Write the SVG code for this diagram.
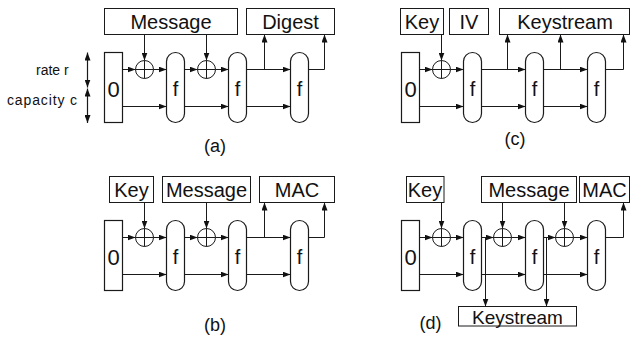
<svg xmlns="http://www.w3.org/2000/svg" width="631" height="341" viewBox="0 0 631 341">
  <style>
    .box { fill: #fff; stroke: #1a1a1a; stroke-width: 1; }
    .state { fill: #fff; stroke: #1a1a1a; stroke-width: 1.2; }
    .xor { fill: #fff; stroke: #1a1a1a; stroke-width: 1; }
    .cross { stroke: #1a1a1a; stroke-width: 1; fill: none; }
    .wire { fill: none; stroke: #1a1a1a; stroke-width: 1; marker-end: url(#ah); }
    .dbl { fill: none; stroke: #1a1a1a; stroke-width: 1.2; marker-start: url(#ah); marker-end: url(#ah); }
    text { font-family: "Liberation Sans", Arial, sans-serif; fill: #111; text-anchor: middle; }
    .lbl { font-size: 20px; }
    .big { font-size: 22px; }
    .cap { font-size: 18px; }
    .side { font-size: 14px; text-anchor: start; }
  </style>
  <defs>
    <marker id="ah" viewBox="0 0 8 6" refX="8" refY="3" markerWidth="8" markerHeight="6" orient="auto-start-reverse" markerUnits="userSpaceOnUse">
      <path d="M0,0 L8,3 L0,6 z" fill="#111"/>
    </marker>
    <g id="xorSym">
      <circle class="xor" cx="0" cy="0" r="9"/>
      <path class="cross" d="M-9,0 H9 M0,-9 V9"/>
    </g>
  </defs>

  <!-- rate / capacity legend -->
  <g id="legend">
    <text class="side" x="36" y="75">rate r</text>
    <text class="side" x="7" y="105" textLength="70" lengthAdjust="spacing">capacity c</text>
    <path class="dbl" d="M87.5,52.5 V87.5"/>
    <path class="dbl" d="M87.5,88.5 V123"/>
  </g>

  <!-- (a) hashing -->
  <g id="a-message"><rect class="box" x="104.5" y="8.5" width="133" height="26"/><text class="lbl" x="171" y="28.5">Message</text></g>
  <g id="a-digest"><rect class="box" x="246.5" y="8.5" width="88" height="26"/><text class="lbl" x="290.5" y="28.5">Digest</text></g>
  <g id="a-zero"><rect class="state" x="104.5" y="52.5" width="18" height="70"/><text class="big" x="113.5" y="96.5">0</text></g>
  <g id="a-xor1"><use href="#xorSym" x="144.5" y="69.5"/></g>
  <g id="a-f1"><rect class="state" x="166.5" y="52.5" width="18" height="70" rx="9"/><text class="lbl" x="175.5" y="96">f</text></g>
  <g id="a-xor2"><use href="#xorSym" x="206.5" y="69.5"/></g>
  <g id="a-f2"><rect class="state" x="228.5" y="52.5" width="18" height="70" rx="9"/><text class="lbl" x="237.5" y="96">f</text></g>
  <g id="a-f3"><rect class="state" x="290.5" y="52.5" width="18" height="70" rx="9"/><text class="lbl" x="299.5" y="96">f</text></g>
  <g id="a-caption"><text class="cap" x="215" y="151.5">(a)</text></g>

  <!-- (b) MAC -->
  <g id="b-key"><rect class="box" x="109.5" y="176.5" width="44" height="26"/><text class="lbl" x="131.5" y="196.5">Key</text></g>
  <g id="b-message"><rect class="box" x="162.5" y="176.5" width="88" height="26"/><text class="lbl" x="206.5" y="196.5">Message</text></g>
  <g id="b-mac"><rect class="box" x="259.5" y="176.5" width="75" height="26"/><text class="lbl" x="297" y="196.5">MAC</text></g>
  <g id="b-zero"><rect class="state" x="104.5" y="220.5" width="18" height="70"/><text class="big" x="113.5" y="264.5">0</text></g>
  <g id="b-xor1"><use href="#xorSym" x="144.5" y="237.5"/></g>
  <g id="b-f1"><rect class="state" x="166.5" y="220.5" width="18" height="70" rx="9"/><text class="lbl" x="175.5" y="264">f</text></g>
  <g id="b-xor2"><use href="#xorSym" x="206.5" y="237.5"/></g>
  <g id="b-f2"><rect class="state" x="228.5" y="220.5" width="18" height="70" rx="9"/><text class="lbl" x="237.5" y="264">f</text></g>
  <g id="b-f3"><rect class="state" x="290.5" y="220.5" width="18" height="70" rx="9"/><text class="lbl" x="299.5" y="264">f</text></g>
  <g id="b-caption"><text class="cap" x="215" y="331">(b)</text></g>

  <!-- (c) stream cipher -->
  <g id="c-key"><rect class="box" x="400.5" y="8.5" width="43" height="26"/><text class="lbl" x="422" y="28.5">Key</text></g>
  <g id="c-iv"><rect class="box" x="449.5" y="8.5" width="39" height="26"/><text class="lbl" x="469" y="28.5">IV</text></g>
  <g id="c-keystream"><rect class="box" x="499.5" y="8.5" width="130" height="26"/><text class="lbl" x="565" y="28.5">Keystream</text></g>
  <g id="c-zero"><rect class="state" x="401.5" y="52.5" width="18" height="70"/><text class="big" x="410.5" y="96.5">0</text></g>
  <g id="c-xor1"><use href="#xorSym" x="441.5" y="69.5"/></g>
  <g id="c-f1"><rect class="state" x="463.5" y="52.5" width="18" height="70" rx="9"/><text class="lbl" x="472.5" y="96">f</text></g>
  <g id="c-f2"><rect class="state" x="525.5" y="52.5" width="18" height="70" rx="9"/><text class="lbl" x="534.5" y="96">f</text></g>
  <g id="c-f3"><rect class="state" x="587.5" y="52.5" width="18" height="70" rx="9"/><text class="lbl" x="596.5" y="96">f</text></g>
  <g id="c-caption"><text class="cap" x="515" y="145">(c)</text></g>

  <!-- (d) authenticated encryption -->
  <g id="d-key"><rect class="box" x="406.5" y="176.5" width="37.5" height="26"/><text class="lbl" x="425" y="196.5">Key</text></g>
  <g id="d-message"><rect class="box" x="481.5" y="176.5" width="95" height="26"/><text class="lbl" x="529" y="196.5">Message</text></g>
  <g id="d-mac"><rect class="box" x="579.5" y="176.5" width="50" height="26"/><text class="lbl" x="604.5" y="196.5">MAC</text></g>
  <g id="d-zero"><rect class="state" x="401.5" y="220.5" width="18" height="70"/><text class="big" x="410.5" y="264.5">0</text></g>
  <g id="d-xor1"><use href="#xorSym" x="441.5" y="237.5"/></g>
  <g id="d-f1"><rect class="state" x="463.5" y="220.5" width="18" height="70" rx="9"/><text class="lbl" x="472.5" y="264">f</text></g>
  <g id="d-xor2"><use href="#xorSym" x="502.5" y="237.5"/></g>
  <g id="d-f2"><rect class="state" x="525.5" y="220.5" width="18" height="70" rx="9"/><text class="lbl" x="534.5" y="264">f</text></g>
  <g id="d-xor3"><use href="#xorSym" x="564.5" y="237.5"/></g>
  <g id="d-f3"><rect class="state" x="587.5" y="220.5" width="18" height="70" rx="9"/><text class="lbl" x="596.5" y="264">f</text></g>
  <g id="d-keystream"><rect class="box" x="458.5" y="306.5" width="118" height="19.5"/><text class="lbl" x="517.5" y="324" style="font-size:19px">Keystream</text></g>
  <g id="d-caption"><text class="cap" x="430.5" y="329">(d)</text></g>

  <!-- connectors -->
  <g id="connectors">
    <!-- (a) -->
    <path class="wire" d="M122.5,69.5 H135.5"/>
    <path class="wire" d="M144.5,34.5 V60.5"/>
    <path class="wire" d="M153.5,69.5 H166.5"/>
    <path class="wire" d="M184.5,69.5 H197.5"/>
    <path class="wire" d="M206.5,34.5 V60.5"/>
    <path class="wire" d="M215.5,69.5 H228.5"/>
    <path class="wire" d="M246.5,69.5 H290.5"/>
    <path class="wire" d="M264.5,69.5 V34.5"/>
    <path class="wire" d="M308.5,69.5 H324.5 V34.5"/>
    <path class="wire" d="M122.5,106.5 H166.5"/>
    <path class="wire" d="M184.5,106.5 H228.5"/>
    <path class="wire" d="M246.5,106.5 H290.5"/>
    <!-- (b) -->
    <path class="wire" d="M122.5,237.5 H135.5"/>
    <path class="wire" d="M144.5,202.5 V228.5"/>
    <path class="wire" d="M153.5,237.5 H166.5"/>
    <path class="wire" d="M184.5,237.5 H197.5"/>
    <path class="wire" d="M206.5,202.5 V228.5"/>
    <path class="wire" d="M215.5,237.5 H228.5"/>
    <path class="wire" d="M246.5,237.5 H290.5"/>
    <path class="wire" d="M264.5,237.5 V202.5"/>
    <path class="wire" d="M308.5,237.5 H324.5 V202.5"/>
    <path class="wire" d="M122.5,274.5 H166.5"/>
    <path class="wire" d="M184.5,274.5 H228.5"/>
    <path class="wire" d="M246.5,274.5 H290.5"/>
    <!-- (c) -->
    <path class="wire" d="M419.5,69.5 H432.5"/>
    <path class="wire" d="M441.5,34.5 V60.5"/>
    <path class="wire" d="M450.5,69.5 H463.5"/>
    <path class="wire" d="M481.5,69.5 H525.5"/>
    <path class="wire" d="M507.5,69.5 V34.5"/>
    <path class="wire" d="M543.5,69.5 H587.5"/>
    <path class="wire" d="M560.5,69.5 V34.5"/>
    <path class="wire" d="M605.5,69.5 H623.5 V34.5"/>
    <path class="wire" d="M419.5,106.5 H463.5"/>
    <path class="wire" d="M481.5,106.5 H525.5"/>
    <path class="wire" d="M543.5,106.5 H587.5"/>
    <!-- (d) -->
    <path class="wire" d="M419.5,237.5 H432.5"/>
    <path class="wire" d="M441.5,202.5 V228.5"/>
    <path class="wire" d="M450.5,237.5 H463.5"/>
    <path class="wire" d="M481.5,237.5 H493.5"/>
    <path class="wire" d="M485.5,237.5 V306.5"/>
    <path class="wire" d="M502.5,202.5 V228.5"/>
    <path class="wire" d="M511.5,237.5 H525.5"/>
    <path class="wire" d="M543.5,237.5 H555.5"/>
    <path class="wire" d="M546.5,237.5 V306.5"/>
    <path class="wire" d="M564.5,202.5 V228.5"/>
    <path class="wire" d="M573.5,237.5 H587.5"/>
    <path class="wire" d="M605.5,237.5 H623.5 V202.5"/>
    <path class="wire" d="M419.5,274.5 H463.5"/>
    <path class="wire" d="M481.5,274.5 H525.5"/>
    <path class="wire" d="M543.5,274.5 H587.5"/>
  </g>
</svg>
